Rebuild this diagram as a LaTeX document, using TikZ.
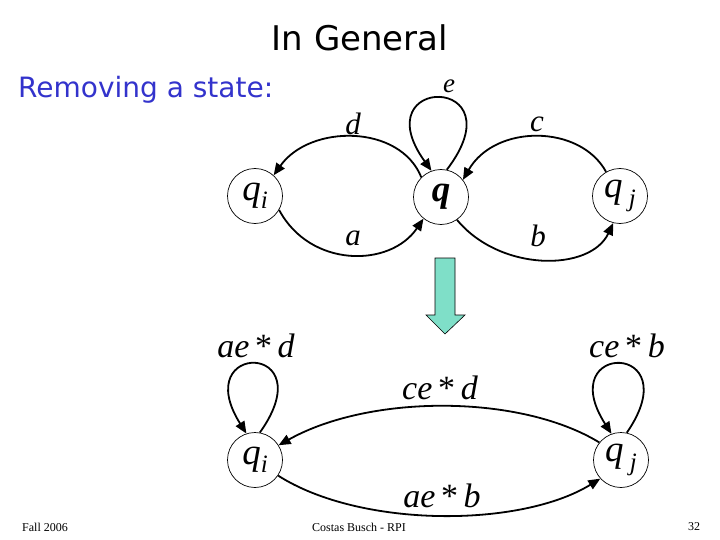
\documentclass[tikz,border=0pt]{standalone}
\usepackage{fontspec}
\setmainfont{Liberation Serif}
\newfontfamily\titlefont{DejaVu Sans}
\usetikzlibrary{arrows.meta}
\definecolor{slideblue}{RGB}{51,51,204}
\definecolor{aqua}{RGB}{127,223,200}
\newcommand{\sbs}[1]{\raisebox{-0.5ex}{\fontsize{25}{25}\selectfont\itshape #1}}
\newcommand{\fs}[1]{\fontsize{#1}{#1}\selectfont}
\begin{document}
\begin{tikzpicture}[x=1pt,y=-1pt,
  state/.style={draw,circle,line width=0.7pt,minimum size=55pt,inner sep=0pt,font=\fs{37}\itshape},
  edge/.style={line width=1.8pt,-{Triangle[length=12pt,width=10pt]}},
  elab/.style={font=\fs{31}\itshape,inner sep=0pt,anchor=base},
  blab/.style={font=\fs{34}\itshape,inner sep=0pt,anchor=base},
  foot/.style={font=\fs{12},inner sep=0pt}]
\useasboundingbox (0,0) rectangle (720,540);
% titles
\node[font=\titlefont\fs{34},inner sep=0pt] (title) at (360,38) {In General};
\node[font=\titlefont\fs{28},text=slideblue,inner sep=0pt,anchor=west] (sub) at (18,90) {Removing a state:};
% top automaton
\node[state] (qi) at (255,196) {q\sbs{i}};
\node[state,font=\fs{37}\itshape\bfseries] (q) at (441,197) {q};
\node[state] (qj) at (620,196) {q\,\sbs{j}};
\draw[edge] (qi.-30) .. controls (310,268) and (390,268) .. (q.-129);
\draw[edge] (q.-55) .. controls (500,272) and (590,272) .. (qj.-104);
\draw[edge] (q.135) .. controls (400,124) and (310,124) .. (qi.48);
\draw[edge] (qj.120) .. controls (580,124) and (495,124) .. (q.38);
\draw[edge] (q.78) .. controls (520,74) and (362,74) .. (q.110);
\node[elab] (ld) at (353,135) {d};
\node[elab] (lc) at (537,132) {c};
\node[elab,font=\fs{27}\itshape] (le) at (449,93) {e};
\node[elab] (la) at (353,245) {a};
\node[elab] (lb) at (538,247) {b};
% block arrow
\draw[fill=aqua,line width=0.6pt] (435,258) -- (455,258) -- (455,315) -- (465,315) -- (445,334) -- (426,315) -- (435,315) -- cycle;
% bottom automaton
\node[state] (bi) at (255,460) {q\sbs{i}};
\node[state] (bj) at (621,460) {q\,\sbs{j}};
\draw[edge] (bi.80) .. controls (325,341) and (188,341) .. (bi.108);
\draw[edge] (bj.78) .. controls (690,341) and (552,341) .. (bj.110);
\draw[edge] (bj.141) .. controls (520,394) and (370,394) .. (bi.32);
\draw[edge] (bi.-34) .. controls (360,528) and (520,528) .. (bj.-138);
\node[blab] (l1) at (256,357) {ae\,{\upshape*}\,d};
\node[blab] (l2) at (627,357) {ce\,{\upshape*}\,b};
\node[blab] (l3) at (440,399) {ce\,{\upshape*}\,d};
\node[blab] (l4) at (442,507) {ae\,{\upshape*}\,b};
% footer
\node[foot] (f1) at (45,527) {Fall 2006};
\node[foot] (f2) at (359,527) {Costas Busch - RPI};
\node[foot] (f3) at (694,527) {32};
\end{tikzpicture}
\end{document}
